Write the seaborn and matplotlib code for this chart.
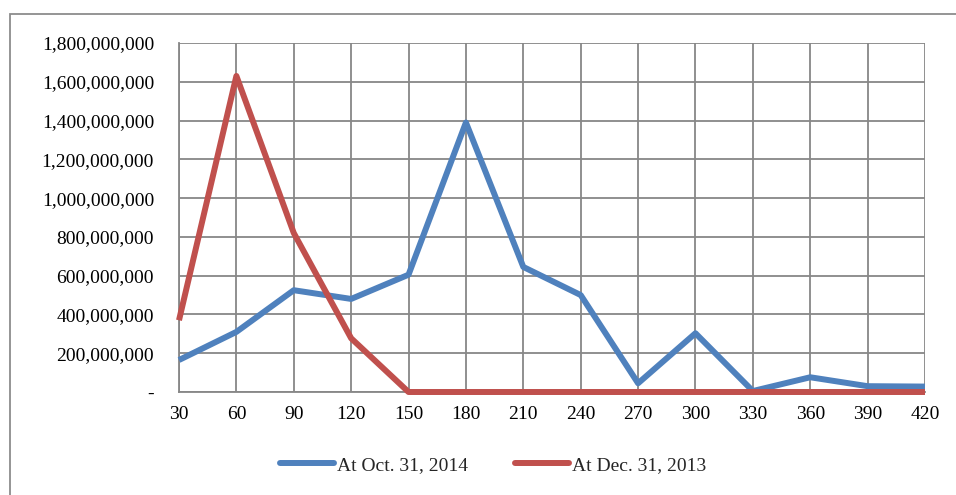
import matplotlib
matplotlib.use("Agg")
import matplotlib.pyplot as plt
import seaborn as sns
import pandas as pd
from matplotlib.ticker import FuncFormatter
from matplotlib.patches import Rectangle

days = [30, 60, 90, 120, 150, 180, 210, 240, 270, 300, 330, 360, 390, 420]
oct_2014 = [165e6, 310e6, 525e6, 480e6, 605e6, 1390e6, 645e6, 500e6, 45e6, 303e6, 5e6, 76e6, 30e6, 28e6]
dec_2013 = [370e6, 1630e6, 820e6, 277e6, 0, 0, 0, 0, 0, 0, 0, 0, 0, 0]
series_names = ["At Oct. 31, 2014", "At Dec. 31, 2013"]
colors = ["#4F81BD", "#C0504D"]

df = pd.DataFrame({
    "day": days * 2,
    "value": oct_2014 + dec_2013,
    "series": [series_names[0]] * len(days) + [series_names[1]] * len(days),
})

sns.set_theme(style="white")
plt.rcParams["font.family"] = ["Liberation Serif", "DejaVu Serif"]

fig = plt.figure(figsize=(9.56, 4.95), dpi=100)
ax = fig.add_axes([179 / 956, 1 - 392 / 495, (925 - 179) / 956, (392 - 43) / 495])

sns.lineplot(data=df, x="day", y="value", hue="series", hue_order=series_names,
             palette=dict(zip(series_names, colors)), linewidth=4.3, ax=ax,
             legend=True, solid_joinstyle="round", solid_capstyle="butt")
for ln in ax.get_lines():
    ln.set_clip_on(False)
    ln.set_zorder(5)

grid_c = "#878787"
ax.set_xlim(30, 420)
ax.set_ylim(0, 1.8e9)
ax.set_xticks(days)
ax.set_xticklabels([str(d) for d in days])
ax.set_yticks([i * 2e8 for i in range(10)])
ax.yaxis.set_major_formatter(FuncFormatter(lambda v, p: "-" if v == 0 else f"{int(v):,}"))
ax.grid(True, color=grid_c, linewidth=1.3)
ax.set_axisbelow(True)
for s in ["top", "right"]:
    ax.spines[s].set_visible(False)
for s in ["left", "bottom"]:
    ax.spines[s].set_color(grid_c)
    ax.spines[s].set_linewidth(1.3)
ax.tick_params(axis="both", which="major", length=5, width=1.3, color=grid_c,
               labelsize=14, labelcolor="black", direction="out")
ax.tick_params(axis="y", pad=13)
ax.tick_params(axis="x", pad=5)
ax.set_xlabel("")
ax.set_ylabel("")

handles, labels = ax.get_legend_handles_labels()
ax.get_legend().remove()
leg = fig.legend(handles, labels, loc="center", bbox_to_anchor=(493 / 956, 1 - 465 / 495), ncol=2,
                 frameon=False, fontsize=14, handlelength=2.8, handletextpad=0.15, columnspacing=2.4)
for h in leg.get_lines():
    h.set_linewidth(4.3)
    h.set_solid_capstyle("round")

fig.patches.append(Rectangle((10 / 956, -0.1), 1.2, 1 - 14 / 495 + 0.1, transform=fig.transFigure,
                             fill=False, edgecolor="#8c8c8c", linewidth=1.3, zorder=0))

fig.savefig("out.png", dpi=100)
